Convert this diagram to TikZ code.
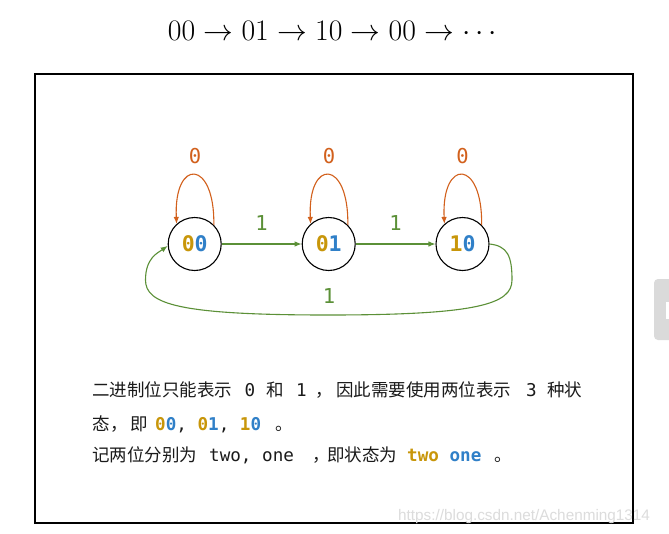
\documentclass[tikz,border=0pt]{standalone}
\usepackage{fontspec}
\usetikzlibrary{arrows.meta}
\newfontfamily\cjk{Noto Sans CJK SC}
\newfontfamily\mono{DejaVu Sans Mono}
\newfontfamily\wmfont{Liberation Sans}
\definecolor{cgold}{HTML}{C8960A}
\definecolor{cblue}{HTML}{3080C8}
\definecolor{corange}{HTML}{D2601C}
\definecolor{cgreen}{HTML}{5B9037}
\definecolor{ctext}{HTML}{1A1A1A}
\definecolor{ctab}{HTML}{DADADA}
\definecolor{cwm}{HTML}{DCDCDC}
\begin{document}
\begin{tikzpicture}[x=1pt,y=-1pt,
  state/.style={circle,draw=black,line width=1.1pt,minimum size=53pt,inner sep=0pt,
    font=\fontsize{21.5}{24}\selectfont\mono\bfseries},
  loopedge/.style={draw=corange,line width=1.1pt,-{Latex[length=7pt,width=5.5pt]}},
  stepedge/.style={draw=cgreen,line width=1.1pt,-{Latex[length=7pt,width=5.5pt]}},
  looplabel/.style={text=corange,font=\fontsize{20.5}{24}\selectfont\mono},
  steplabel/.style={text=cgreen,font=\fontsize{20.5}{24}\selectfont\mono},
  cj/.style={anchor=base west,inner sep=0pt,text=ctext,font=\fontsize{17.5}{20}\selectfont\cjk},
  mo/.style={anchor=base west,inner sep=0pt,text=ctext,font=\fontsize{17.6}{20}\selectfont\mono},
]
\useasboundingbox (0,0) rectangle (669,533);
\fill[white] (0,0) rectangle (669,533);
% title
\node[inner sep=0pt,font=\fontsize{24.88}{30}\selectfont] (title) at (332.5,31) {\scalebox{1.196}{$00\to01\to10\to00\to\cdots$}};
% frame
\draw[line width=2pt] (35,74) rectangle (633,523);
% states
\node[state] (s00) at (194.7,244) {\textcolor{cgold}{0}\textcolor{cblue}{0}};
\node[state] (s01) at (328.7,244) {\textcolor{cgold}{0}\textcolor{cblue}{1}};
\node[state] (s10) at (462.5,244) {\textcolor{cgold}{1}\textcolor{cblue}{0}};
% self loops
\draw[loopedge] (s00.45) .. controls +(1,-66) and +(-3,-66) .. (s00.132);
\draw[loopedge] (s01.45) .. controls +(1,-66) and +(-3,-66) .. (s01.132);
\draw[loopedge] (s10.45) .. controls +(1,-66) and +(-3,-66) .. (s10.132);
\node[looplabel] (l00) at (195,156.5) {0};
\node[looplabel] (l01) at (329,156.5) {0};
\node[looplabel] (l10) at (462.5,156.5) {0};
% forward edges
\draw[stepedge] (s00) -- (s01);
\draw[stepedge] (s01) -- (s10);
\node[steplabel] (e1) at (261.5,223.5) {1};
\node[steplabel] (e2) at (395.5,223.5) {1};
% back edge
\coordinate (br) at (512,280);
\coordinate (bot) at (328,315);
\coordinate (bl) at (145.5,280);
\draw[stepedge] (s10.east) .. controls +(18,2) and +(0,-24) .. (br)
  .. controls +(0,24) and +(150,0) .. (bot)
  .. controls +(-150,0) and +(0,24) .. (bl)
  .. controls +(0,-22) and +(-10,7) .. (s00.184);
\node[steplabel] (e3) at (329,296.5) {1};
% text line 1
\node[cj] (t1a) at (92,396) {二进制位只能表示};
\node[mo] (t1b) at (244.5,396) {0};
\node[cj] (t1c) at (266,396) {和};
\node[mo] (t1d) at (296,396) {1};
\node[cj] (t1e) at (315,396) {，};
\node[cj] (t1f) at (336,396) {因此需要使用两位表示};
\node[mo] (t1g) at (526,396) {3};
\node[cj] (t1h) at (547,396) {种状};
% text line 2
\node[cj] (t2a) at (92,430) {态};
\node[cj] (t2b) at (110,430) {，};
\node[cj] (t2c) at (130,430) {即};
\node[mo] (t2d) at (155,430) {\bfseries\textcolor{cgold}{0}\textcolor{cblue}{0}\mdseries, \bfseries\textcolor{cgold}{0}\textcolor{cblue}{1}\mdseries, \bfseries\textcolor{cgold}{1}\textcolor{cblue}{0}};
\node[cj] (t2e) at (275,430) {。};
% text line 3
\node[cj] (t3a) at (92,461) {记两位分别为};
\node[mo] (t3b) at (209,461) {two, one};
\node[cj] (t3c) at (312,461) {，};
\node[cj] (t3d) at (327,461) {即状态为};
\node[mo] (t3e) at (407,461) {\bfseries\textcolor{cgold}{two} \textcolor{cblue}{one}};
\node[cj] (t3f) at (494,461) {。};
% watermark
\node[anchor=base west,inner sep=0pt,text=cwm,font=\fontsize{15.3}{18}\selectfont\wmfont] (wm) at (398,520) {https://blog.csdn.net/Achenming1314};
% side tab
\fill[ctab,rounded corners=4pt] (654,279) rectangle (675,340);
\fill[white] (666,302) rectangle (669,319);
\end{tikzpicture}
\end{document}
